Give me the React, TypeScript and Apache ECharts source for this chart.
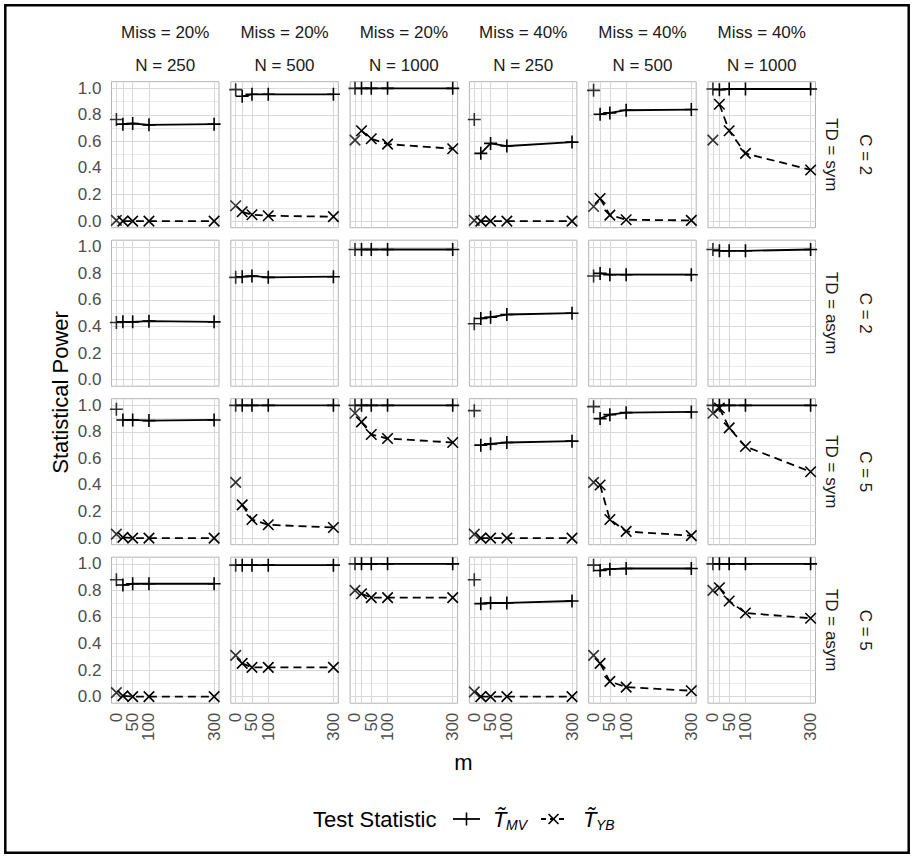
import React, { useEffect, useRef } from "react";
import * as echarts from "echarts";

// ---------- data ----------
const M_VALUES = [0, 20, 50, 100, 300];
const X_TICKS = [0, 20, 50, 100, 300];
const X_LABELS = [0, 50, 100, 300];
const Y_MAJOR = [0, 0.2, 0.4, 0.6, 0.8, 1.0];
const Y_MINOR = [0.1, 0.3, 0.5, 0.7, 0.9];

const COL_MISS = ["Miss = 20%", "Miss = 20%", "Miss = 20%", "Miss = 40%", "Miss = 40%", "Miss = 40%"];
const COL_N = ["N = 250", "N = 500", "N = 1000", "N = 250", "N = 500", "N = 1000"];
const ROW_TD = ["TD = sym", "TD = asym", "TD = sym", "TD = asym"];
const ROW_C = ["C = 2", "C = 2", "C = 5", "C = 5"];

// each: 6 columns (panels) x 5 values of m
const MV_C2_SYM = [
  [0.765, 0.73, 0.735, 0.725, 0.73],
  [0.99, 0.94, 0.955, 0.955, 0.955],
  [1.0, 1.0, 1.0, 1.0, 1.0],
  [0.765, 0.51, 0.585, 0.565, 0.595],
  [0.985, 0.805, 0.815, 0.835, 0.84],
  [0.995, 0.99, 0.995, 0.995, 0.995],
];
const YB_C2_SYM = [
  [0.005, 0, 0, 0, 0],
  [0.115, 0.07, 0.048, 0.04, 0.033],
  [0.61, 0.68, 0.62, 0.58, 0.545],
  [0.005, 0, 0, 0, 0],
  [0.11, 0.17, 0.045, 0.01, 0.005],
  [0.61, 0.88, 0.68, 0.51, 0.385],
];
const MV_C2_ASYM = [
  [0.43, 0.435, 0.435, 0.44, 0.435],
  [0.77, 0.775, 0.78, 0.77, 0.775],
  [0.98, 0.98, 0.98, 0.98, 0.98],
  [0.42, 0.46, 0.47, 0.49, 0.5],
  [0.78, 0.8, 0.79, 0.79, 0.79],
  [0.98, 0.97, 0.97, 0.97, 0.98],
];
const YB_C2_ASYM = [null, null, null, null, null, null];
const MV_C5_SYM = [
  [0.97, 0.89, 0.89, 0.885, 0.89],
  [1.0, 1.0, 1.0, 1.0, 1.0],
  [1.0, 1.0, 1.0, 1.0, 1.0],
  [0.96, 0.7, 0.71, 0.72, 0.73],
  [0.99, 0.9, 0.93, 0.945, 0.95],
  [1.0, 1.0, 1.0, 1.0, 1.0],
];
const YB_C5_SYM = [
  [0.03, 0.005, 0, 0, 0],
  [0.42, 0.25, 0.14, 0.1, 0.08],
  [0.94, 0.875, 0.78, 0.75, 0.72],
  [0.03, 0, 0, 0, 0],
  [0.42, 0.4, 0.14, 0.05, 0.018],
  [0.94, 0.98, 0.83, 0.69, 0.5],
];
const MV_C5_ASYM = [
  [0.88, 0.84, 0.85, 0.85, 0.85],
  [0.99, 0.99, 0.99, 0.99, 0.99],
  [1.0, 1.0, 1.0, 1.0, 1.0],
  [0.88, 0.7, 0.705, 0.705, 0.72],
  [0.99, 0.95, 0.96, 0.965, 0.965],
  [1.0, 1.0, 1.0, 1.0, 1.0],
];
const YB_C5_ASYM = [
  [0.03, 0.005, 0, 0, 0],
  [0.31, 0.25, 0.22, 0.22, 0.22],
  [0.8, 0.775, 0.745, 0.745, 0.745],
  [0.035, 0, 0, 0, 0],
  [0.31, 0.25, 0.114, 0.071, 0.044],
  [0.8, 0.82, 0.72, 0.63, 0.59],
];

const MV_ROWS = [MV_C2_SYM, MV_C2_ASYM, MV_C5_SYM, MV_C5_ASYM];
const YB_ROWS = [YB_C2_SYM, YB_C2_ASYM, YB_C5_SYM, YB_C5_ASYM];

// ---------- layout / style ----------
const FONT = "Liberation Sans, Arial, Helvetica, sans-serif";
const PANEL_X0 = 111.5;
const PANEL_W = 107.5;
const COL_STEP = 119.3;
const PANEL_Y0 = 81.7;
const PANEL_H = 146;
const ROW_STEP = 158.5;
const PLUS = "path://M0,-1L0,1M-1,0L1,0";
const CROSS = "path://M-1,-1L1,1M-1,1L1,-1";

function buildOption() {
  const grid: any[] = [];
  const xAxis: any[] = [];
  const yAxis: any[] = [];
  const series: any[] = [];
  const graphic: any[] = [];
  const nRows = MV_ROWS.length;
  const nCols = COL_N.length;
  // alternate labels go to two axes so that close labels are not dropped
  const labelsA = X_LABELS.filter((_, i) => i % 2 === 0);
  const labelsB = X_LABELS.filter((_, i) => i % 2 === 1);

  const xLabelStyle = {
    rotate: 90, margin: 9.5, showMinLabel: true, showMaxLabel: true, hideOverlap: false,
    formatter: (v: number) => String(v), fontSize: 17, color: "#4d4d4d", fontFamily: FONT,
  };

  for (let r = 0; r < nRows; r++) {
    for (let c = 0; c < nCols; c++) {
      const gi = r * nCols + c;
      const left = PANEL_X0 + c * COL_STEP;
      const top = PANEL_Y0 + r * ROW_STEP;
      const isBottom = r === nRows - 1;
      grid.push({
        left, top, width: PANEL_W, height: PANEL_H,
        show: true, borderColor: "#b3b3b3", borderWidth: 1, backgroundColor: "#ffffff",
      });
      const xi = xAxis.length;
      xAxis.push({
        gridIndex: gi, type: "value", min: -15, max: 315, position: "bottom",
        axisLine: { show: false }, splitLine: { show: false },
        axisTick: { show: isBottom, customValues: X_TICKS, length: 5, lineStyle: { color: "#b3b3b3", width: 1 } },
        axisLabel: { show: isBottom, customValues: labelsA, ...xLabelStyle },
      });
      if (isBottom) {
        xAxis.push({
          gridIndex: gi, type: "value", min: -15, max: 315, position: "bottom", offset: 0,
          axisLine: { show: false }, splitLine: { show: false }, axisTick: { show: false, customValues: X_TICKS, length: 5 },
          axisLabel: { show: true, customValues: labelsB, ...xLabelStyle },
        });
      }
      yAxis.push({
        gridIndex: gi, type: "value", min: -0.05, max: 1.05,
        axisLine: { show: false }, splitLine: { show: false },
        axisTick: { show: c === 0, customValues: Y_MAJOR, length: 5, lineStyle: { color: "#b3b3b3", width: 1 } },
        axisLabel: {
          show: c === 0, customValues: Y_MAJOR, margin: 10,
          showMinLabel: true, showMaxLabel: true, hideOverlap: false,
          formatter: (v: number) => v.toFixed(1),
          fontSize: 17, color: "#4d4d4d", fontFamily: FONT,
        },
      });

      const gridLines: any[] = [];
      Y_MINOR.forEach((v) => gridLines.push({ yAxis: v, lineStyle: { color: "#e3e3e3", width: 0.8, type: "solid" } }));
      Y_MAJOR.forEach((v) => gridLines.push({ yAxis: v, lineStyle: { color: "#d9d9d9", width: 1.1, type: "solid" } }));
      X_TICKS.forEach((v) => gridLines.push({ xAxis: v, lineStyle: { color: "#d9d9d9", width: 1.1, type: "solid" } }));

      const mv = MV_ROWS[r][c];
      const yb = YB_ROWS[r][c];
      const stats = [
        { vals: mv, symbol: PLUS, size: 13, dash: "solid" as any },
        { vals: yb, symbol: CROSS, size: 10.5, dash: [8, 5] as any },
      ];
      stats.forEach((s, si) => {
        if (!s.vals) return;
        const vals = s.vals as number[];
        series.push({
          type: "line", xAxisIndex: xi, yAxisIndex: gi, silent: true,
          data: M_VALUES.slice(1).map((m, i) => [m, vals[i + 1]]),
          symbol: s.symbol, symbolSize: s.size, showSymbol: true,
          itemStyle: { color: "rgba(0,0,0,0)", borderColor: "#000", borderWidth: 1.6 },
          lineStyle: { color: "#000", width: 1.8, type: s.dash },
          emphasis: { disabled: true }, z: 3,
          markLine: si === 0 ? {
            silent: true, symbol: ["none", "none"], z: 1, label: { show: false },
            emphasis: { disabled: true }, animation: false, data: gridLines,
          } : undefined,
        });
        series.push({
          type: "scatter", xAxisIndex: xi, yAxisIndex: gi, silent: true,
          data: [[M_VALUES[0], vals[0]]],
          symbol: s.symbol, symbolSize: s.size,
          itemStyle: { color: "rgba(0,0,0,0)", borderColor: "#000", borderWidth: 1.6 },
          emphasis: { disabled: true }, z: 3,
        });
      });
    }
  }

  // column strips
  for (let c = 0; c < nCols; c++) {
    const cx = PANEL_X0 + c * COL_STEP + PANEL_W / 2;
    graphic.push({ type: "text", x: cx, y: 32.3, style: { text: COL_MISS[c], align: "center", verticalAlign: "middle", fontSize: 17, fontFamily: FONT, fill: "#1a1a1a" } });
    graphic.push({ type: "text", x: cx, y: 65.7, style: { text: COL_N[c], align: "center", verticalAlign: "middle", fontSize: 17, fontFamily: FONT, fill: "#1a1a1a" } });
  }
  // row strips
  for (let r = 0; r < nRows; r++) {
    const cy = PANEL_Y0 + r * ROW_STEP + PANEL_H / 2;
    graphic.push({ type: "text", x: 831.7, y: cy, rotation: -Math.PI / 2, style: { text: ROW_TD[r], align: "center", verticalAlign: "middle", fontSize: 17, fontFamily: FONT, fill: "#1a1a1a" } });
    graphic.push({ type: "text", x: 865, y: cy, rotation: -Math.PI / 2, style: { text: ROW_C[r], align: "center", verticalAlign: "middle", fontSize: 17, fontFamily: FONT, fill: "#1a1a1a" } });
  }
  const panelsBottom = PANEL_Y0 + (nRows - 1) * ROW_STEP + PANEL_H;
  const panelsRight = PANEL_X0 + (nCols - 1) * COL_STEP + PANEL_W;
  // axis titles
  graphic.push({ type: "text", x: 60, y: (PANEL_Y0 + panelsBottom) / 2, rotation: Math.PI / 2, style: { text: "Statistical Power", align: "center", verticalAlign: "middle", fontSize: 22, fontFamily: FONT, fill: "#000" } });
  graphic.push({ type: "text", x: (PANEL_X0 + panelsRight) / 2, y: 762, style: { text: "m", align: "center", verticalAlign: "middle", fontSize: 22, fontFamily: FONT, fill: "#000" } });

  // legend
  const ly = 819;
  graphic.push({ type: "text", x: 313, y: ly, style: { text: "Test Statistic", align: "left", verticalAlign: "middle", fontSize: 22, fontFamily: FONT, fill: "#000" } });
  graphic.push({ type: "line", shape: { x1: 453, y1: ly, x2: 480, y2: ly }, style: { stroke: "#000", lineWidth: 1.8 } });
  graphic.push({ type: "line", shape: { x1: 466.5, y1: ly - 6.5, x2: 466.5, y2: ly + 6.5 }, style: { stroke: "#000", lineWidth: 1.6 } });
  graphic.push({ type: "text", x: 493, y: ly, style: { text: "T\u0303", align: "left", verticalAlign: "middle", fontSize: 22, fontStyle: "italic", fontFamily: FONT, fill: "#000" } });
  graphic.push({ type: "text", x: 506, y: ly + 6, style: { text: "MV", align: "left", verticalAlign: "middle", fontSize: 14, fontStyle: "italic", fontFamily: FONT, fill: "#000" } });
  graphic.push({ type: "line", shape: { x1: 541, y1: ly, x2: 566, y2: ly }, style: { stroke: "#000", lineWidth: 1.8, lineDash: [5, 4] } });
  graphic.push({ type: "line", shape: { x1: 548.5, y1: ly - 5, x2: 558.5, y2: ly + 5 }, style: { stroke: "#000", lineWidth: 1.6 } });
  graphic.push({ type: "line", shape: { x1: 548.5, y1: ly + 5, x2: 558.5, y2: ly - 5 }, style: { stroke: "#000", lineWidth: 1.6 } });
  graphic.push({ type: "text", x: 583, y: ly, style: { text: "T\u0303", align: "left", verticalAlign: "middle", fontSize: 22, fontStyle: "italic", fontFamily: FONT, fill: "#000" } });
  graphic.push({ type: "text", x: 596, y: ly + 6, style: { text: "YB", align: "left", verticalAlign: "middle", fontSize: 14, fontStyle: "italic", fontFamily: FONT, fill: "#000" } });

  // outer frame
  graphic.push({ type: "rect", shape: { x: 5.3, y: 5.3, width: 903.4, height: 847.4 }, style: { fill: "none", stroke: "#000", lineWidth: 2.5 }, z: 100 });

  return {
    animation: false,
    backgroundColor: "#ffffff",
    grid, xAxis, yAxis, series, graphic,
  };
}

export default function App() {
  const ref = useRef<HTMLDivElement>(null);
  useEffect(() => {
    document.body.style.margin = "0";
    if (!ref.current) return;
    const chart = echarts.init(ref.current, undefined, { renderer: "svg" });
    chart.setOption(buildOption() as any);
    return () => chart.dispose();
  }, []);
  return <div ref={ref} style={{ width: 914, height: 858 }} />;
}
